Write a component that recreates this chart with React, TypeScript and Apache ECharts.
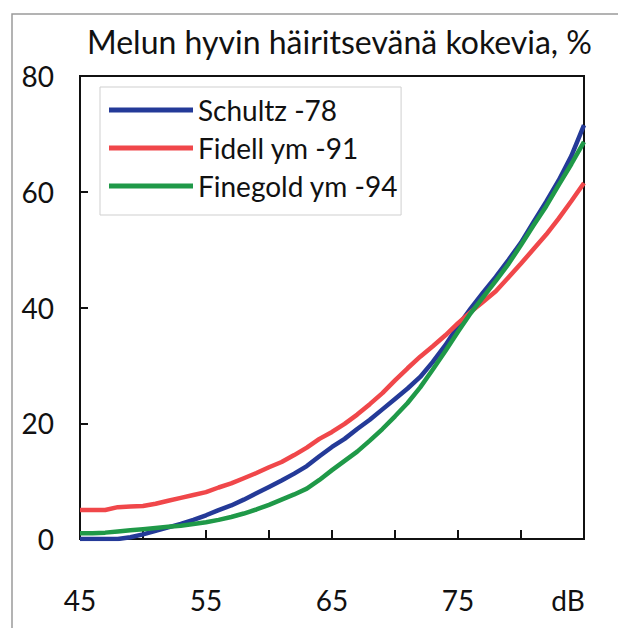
import React, { useEffect, useRef } from "react";
import * as echarts from "echarts";

const dB = [45, 46, 47, 48, 49, 50, 51, 52, 53, 54, 55, 56, 57, 58, 59, 60, 61, 62, 63, 64, 65, 66, 67, 68, 69, 70, 71, 72, 73, 74, 75, 76, 77, 78, 79, 80, 81, 82, 83, 84, 85];

const schultz = [0, 0, 0, 0, 0.3, 0.8, 1.4, 2.0, 2.6, 3.3, 4.1, 5.0, 5.8, 6.8, 7.9, 9.0, 10.1, 11.3, 12.6, 14.3, 15.9, 17.3, 19.0, 20.6, 22.4, 24.2, 26.0, 28.0, 30.6, 33.5, 36.8, 39.8, 42.6, 45.3, 48.2, 51.2, 54.8, 58.3, 62.0, 66.2, 71.5];

const fidell = [5.0, 5.0, 5.0, 5.5, 5.6, 5.7, 6.1, 6.6, 7.1, 7.6, 8.1, 8.9, 9.6, 10.5, 11.4, 12.4, 13.3, 14.5, 15.8, 17.3, 18.5, 19.9, 21.5, 23.3, 25.2, 27.4, 29.5, 31.5, 33.3, 35.2, 37.3, 39.2, 41.0, 42.8, 45.2, 47.6, 50.1, 52.6, 55.4, 58.4, 61.5];

const finegold = [1.0, 1.0, 1.1, 1.3, 1.5, 1.7, 1.9, 2.1, 2.3, 2.6, 2.9, 3.3, 3.8, 4.4, 5.1, 5.9, 6.8, 7.7, 8.7, 10.2, 11.9, 13.5, 15.1, 17.0, 19.0, 21.2, 23.5, 26.2, 29.3, 32.5, 35.8, 39.0, 41.8, 44.6, 47.5, 50.8, 54.2, 57.5, 61.2, 64.8, 68.6];

const seriesNames = ["Schultz -78", "Fidell ym -91", "Finegold ym -94"];
const seriesColors = ["#243a98", "#f0474a", "#1f9948"];
const xTickLabels = [45, 55, 65, 75];
const xUnitLabel = "dB";
const titleText = "Melun hyvin häiritsevänä kokevia, %";

const FONT = "Lato, 'DejaVu Sans', sans-serif";

export default function App() {
  const ref = useRef<HTMLDivElement>(null);
  useEffect(() => {
    if (!ref.current) return;
    const chart = echarts.init(ref.current, null, { renderer: "svg" });
    const all = [schultz, fidell, finegold];
    chart.setOption({
      animation: false,
      backgroundColor: "#ffffff",
      textStyle: { fontFamily: FONT, color: "#111" },
      title: {
        text: titleText,
        left: 82,
        top: 20,
        textStyle: { fontFamily: FONT, fontSize: 32, fontWeight: "normal", color: "#111" },
      },
      graphic: [
        {
          type: "rect",
          shape: { x: 12, y: 14, width: 700, height: 700 },
          style: { fill: "none", stroke: "#9a9a9a", lineWidth: 1.5 },
          silent: true,
        },
      ],
      grid: {
        left: 80,
        top: 76,
        right: 34,
        bottom: 89,
        show: true,
        borderColor: "#111",
        borderWidth: 2,
        backgroundColor: "transparent",
      },
      legend: {
        orient: "vertical",
        left: 100,
        top: 87,
        icon: "rect",
        itemWidth: 84,
        itemHeight: 5,
        itemGap: 6,
        padding: [7, 3, 13, 9],
        borderColor: "#cfcfcf",
        borderWidth: 1,
        textStyle: { fontFamily: FONT, fontSize: 28, color: "#111", lineHeight: 32 },
        data: seriesNames,
      },
      xAxis: {
        type: "value",
        min: 45,
        max: 85,
        interval: 5,
        splitLine: { show: false },
        axisLine: { show: true, lineStyle: { color: "#111", width: 2 } },
        axisTick: { show: true, inside: true, length: 9, lineStyle: { color: "#111", width: 2 } },
        axisLabel: {
          margin: 47,
          fontFamily: FONT,
          fontSize: 28,
          color: "#111",
          formatter: (v: number) => {
            if (v === 85) return "{u|" + xUnitLabel + "}";
            return xTickLabels.includes(v) ? String(v) : "";
          },
          rich: {
            u: { fontFamily: FONT, fontSize: 28, color: "#111", padding: [0, 32, 0, 0] },
          },
        },
      },
      yAxis: {
        type: "value",
        min: 0,
        max: 80,
        interval: 20,
        splitLine: { show: false },
        axisLine: { show: true, lineStyle: { color: "#111", width: 2 } },
        axisTick: { show: true, inside: true, length: 8, lineStyle: { color: "#111", width: 2 } },
        axisLabel: { margin: 26, fontFamily: FONT, fontSize: 28, color: "#111" },
      },
      series: seriesNames.map((name, i) => ({
        name,
        type: "line",
        showSymbol: false,
        symbol: "none",
        color: seriesColors[i],
        lineStyle: { width: 4.5, color: seriesColors[i] },
        data: dB.map((x, j) => [x, all[i][j]]),
      })),
    });
    return () => chart.dispose();
  }, []);
  return (
    <div
      ref={ref}
      style={{ position: "fixed", left: 0, top: 0, width: 618, height: 628 }}
    />
  );
}
